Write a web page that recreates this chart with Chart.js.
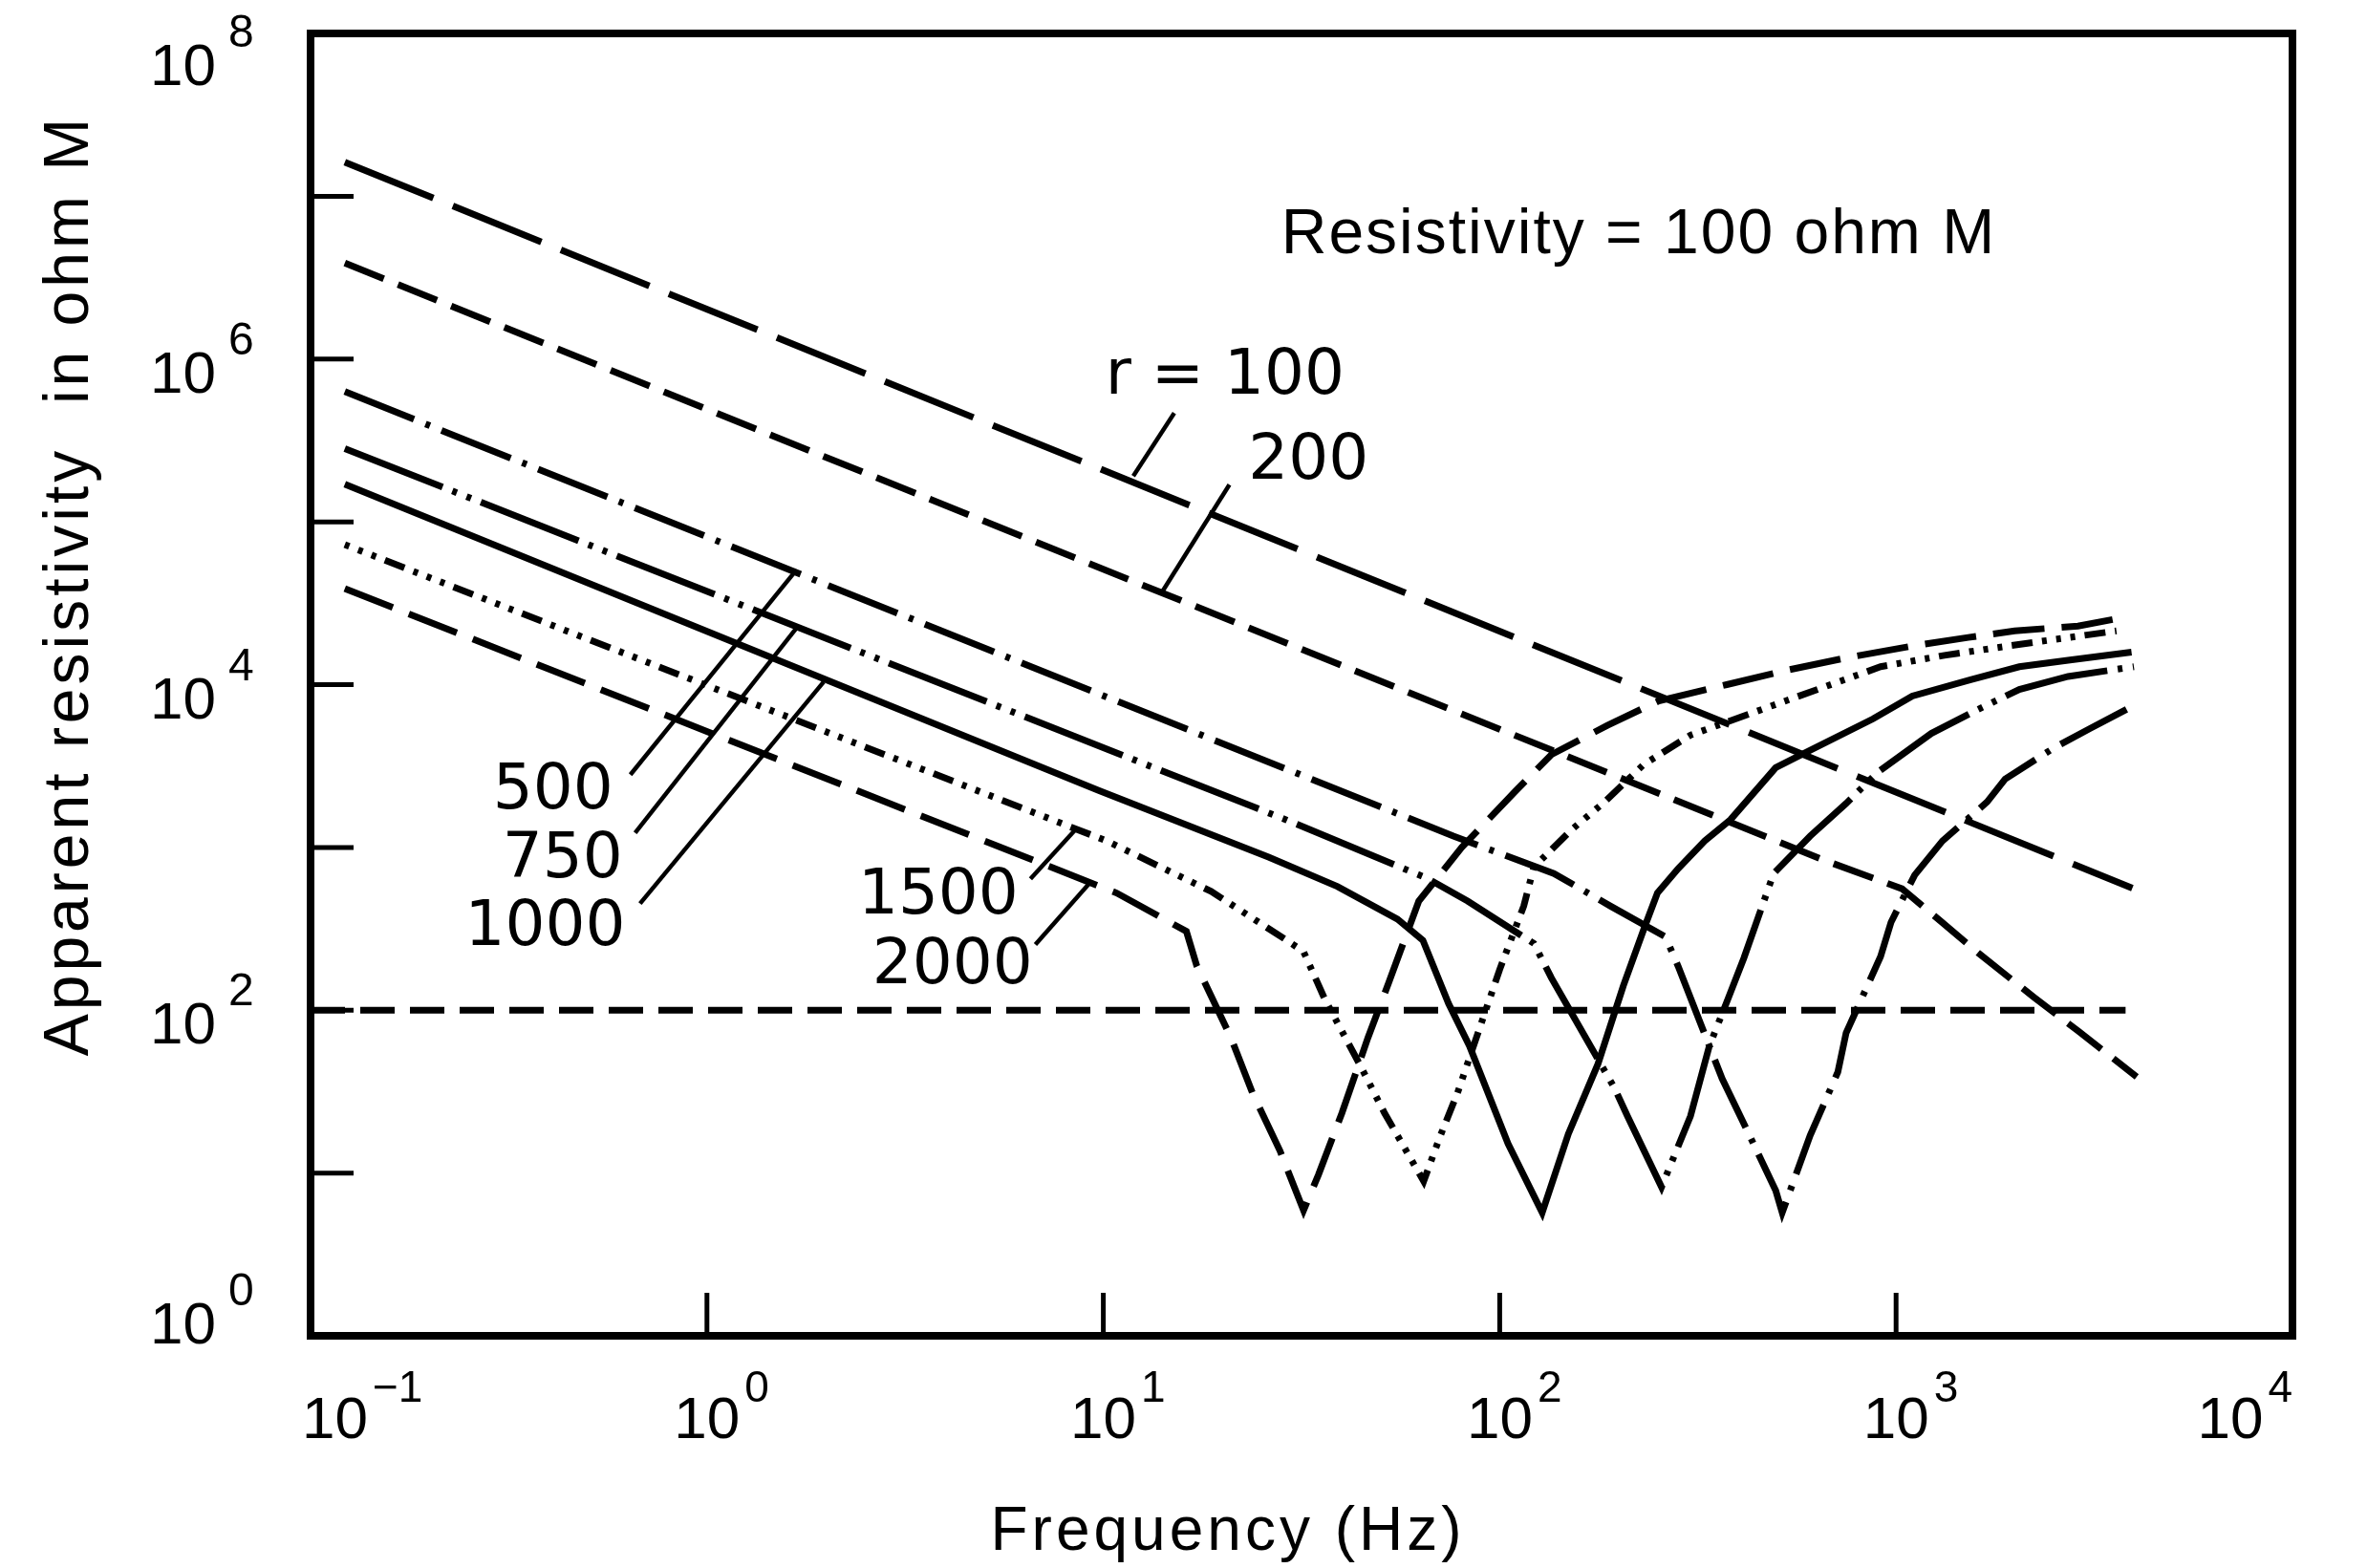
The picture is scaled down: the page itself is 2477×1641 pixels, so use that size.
<!DOCTYPE html>
<html lang="en">
<head>
  <meta charset="UTF-8">
  <title>Apparent resistivity vs frequency</title>
  <script src="https://cdn.jsdelivr.net/npm/chart.js"></script>
  <style>
    html, body { margin: 0; padding: 0; background: #fff; }
    canvas { display: block; }
  </style>
</head>
<body>
<canvas id="rhoChart" width="2477" height="1641"></canvas>
<script>
  // frequency (Hz) / apparent resistivity (ohm m) along each curve, r = spacing
  const freq100 = [0.122, 3945];
  const rho100 = [1.62e7, 562];

  const freq200 = [0.122, 661, 1035, 1291, 1614, 2228, 2891, 4046];
  const rho200 = [3.89e6, 832, 557, 355, 224, 120, 74, 39];

  const freq500 = [0.122, 76.4, 137, 190, 262, 282, 364, 425, 497, 516, 607, 713, 748, 914, 971, 1114, 1309, 1698, 1884, 2495, 3083, 4036];
  const rho500 = [6.31e5, 1175, 692, 437, 282, 186, 38, 17.4, 7.8, 5.71, 17.0, 41.7, 72.4, 214, 347, 676, 1096, 1905, 2630, 4074, 5370, 7586];

  const freq750 = [0.122, 28.9, 65.6, 83.0, 122, 135, 195, 210, 256, 303, 338, 378, 413, 491, 607, 748, 897, 1227, 1585, 2046, 2716, 3981];
  const rho750 = [2.82e5, 1479, 646, 468, 257, 158, 33.1, 22.4, 8.2, 22.4, 60.3, 120, 209, 692, 1175, 1862, 2884, 5012, 6918, 9333, 11220, 12882];

  const freq1000 = [0.122, 9.73, 26.2, 39.0, 55.2, 64.0, 74.3, 83.9, 105, 128, 149, 177, 205, 232, 250, 282, 329, 382, 497, 556, 875, 1099, 1542, 2046, 2716, 3926];
  const rho1000 = [1.70e5, 2240, 870, 575, 363, 269, 110, 60.3, 15.1, 5.71, 17.4, 46.8, 141, 324, 525, 741, 1096, 1479, 3090, 3548, 6166, 8511, 10715, 12882, 14125, 15849];

  const freq1500 = [0.122, 10.2, 18.7, 29.0, 32.0, 36.2, 44.5, 51.2, 64.3, 70.6, 78.2, 100, 115, 122, 152, 184, 231, 303, 914, 1324, 2228, 3597];
  const rho1500 = [72444, 1096, 537, 269, 229, 117, 45.7, 23.4, 8.9, 16.6, 30.9, 178, 437, 759, 1288, 1905, 3236, 4898, 12882, 15136, 18197, 21380];

  const freq2000 = [0.122, 10.8, 16.2, 17.2, 21.0, 23.8, 27.9, 32.0, 34.9, 40.0, 46.5, 52.5, 62.5, 80.2, 110, 135, 187, 252, 374, 533, 769, 1114, 1521, 1991, 2877, 3707];
  const rho2000 = [38905, 525, 305, 188, 67.6, 30.9, 13.7, 5.89, 9.77, 23.4, 67.6, 148, 468, 1000, 2239, 3715, 5623, 7943, 10000, 12303, 14791, 17378, 19498, 21380, 22909, 25704];

  // half-space resistivity
  const freqHalf = [0.1, 3793];
  const rhoHalf = [100, 100];

  // curve labels (right edge / baseline) and their leader lines
  const labelText = ['r = 100', '200', '500', '750', '1000', '1500', '2000'];
  const labelFreq = [40.6, 46.7, 0.580, 0.613, 0.623, 6.11, 6.64];
  const labelRho = [6.10e5, 1.84e5, 1742, 660, 253, 395, 146];
  const leaderFreq = [[15.1, 11.9], [20.8, 13.96], [0.641, 1.684], [0.659, 1.70], [0.678, 1.97], [6.55, 8.57], [6.74, 9.31]];
  const leaderRho = [[4.66e5, 1.91e5], [1.69e5, 3.60e4], [2798, 5.09e4], [1228, 2.30e4], [452, 1.04e4], [642, 1313], [253, 617]];

  const noteText = 'Resistivity = 100 ohm M';
  const noteFreq = 28.1;
  const noteRho = 4.44e6;

  const xTickExp = [-1, 0, 1, 2, 3, 4];
  const yTickExp = [0, 2, 4, 6, 8];

  const toPts = (f, r) => f.map((v, i) => ({ x: v, y: r[i] }));
  const curve = (f, r, dash) => ({
    data: toPts(f, r),
    showLine: true,
    borderColor: '#000',
    borderWidth: 7,
    borderDash: dash,
    borderCapStyle: 'butt',
    pointRadius: 0,
    tension: 0
  });

  const datasets = [
    curve(freq100, rho100, [100, 22]),
    curve(freq200, rho200, [44, 16]),
    curve(freq500, rho500, [78, 13, 5, 13]),
    curve(freq750, rho750, [110, 11, 5, 11, 5, 11]),
    curve(freq1000, rho1000, []),
    curve(freq1500, rho1500, [5, 10, 5, 10, 5, 10, 22, 10]),
    curve(freq2000, rho2000, [54, 18]),
    curve(freqHalf, rhoHalf, [36, 16])
  ];

  // frame, inward ticks, power-of-ten labels, titles and curve labels
  const decorations = {
    id: 'decorations',
    afterDraw(chart) {
      const { ctx, chartArea: a, scales: { x, y } } = chart;
      ctx.save();
      ctx.strokeStyle = '#000';
      ctx.fillStyle = '#000';
      ctx.setLineDash([]);

      // leader lines
      ctx.lineWidth = 4.5;
      leaderFreq.forEach((lf, i) => {
        ctx.beginPath();
        ctx.moveTo(x.getPixelForValue(lf[0]), y.getPixelForValue(leaderRho[i][0]));
        ctx.lineTo(x.getPixelForValue(lf[1]), y.getPixelForValue(leaderRho[i][1]));
        ctx.stroke();
      });

      // curve labels
      ctx.font = '66px "DejaVu Sans"';
      ctx.textAlign = 'right';
      ctx.textBaseline = 'alphabetic';
      labelText.forEach((t, i) => {
        ctx.fillText(t, x.getPixelForValue(labelFreq[i]), y.getPixelForValue(labelRho[i]));
      });

      ctx.font = '66px "Liberation Sans"';
      ctx.letterSpacing = '2px';
      ctx.textAlign = 'left';
      ctx.fillText(noteText, x.getPixelForValue(noteFreq), y.getPixelForValue(noteRho));
      ctx.letterSpacing = '0px';

      // frame
      ctx.lineWidth = 8;
      ctx.strokeRect(a.left, a.top, a.right - a.left, a.bottom - a.top);

      // inward ticks
      ctx.lineWidth = 5;
      for (let e = 1; e <= 7; e++) {
        const py = y.getPixelForValue(10 ** e);
        ctx.beginPath();
        ctx.moveTo(a.left, py);
        ctx.lineTo(a.left + 45, py);
        ctx.stroke();
      }
      for (let e = 0; e <= 3; e++) {
        const px = x.getPixelForValue(10 ** e);
        ctx.beginPath();
        ctx.moveTo(px, a.bottom);
        ctx.lineTo(px, a.bottom - 45);
        ctx.stroke();
      }

      // x tick labels
      xTickExp.forEach((e, i) => {
        const px = x.getPixelForValue(10 ** e);
        const exp = e < 0 ? '\u2212' + (-e) : String(e);
        ctx.font = '62px "Liberation Sans"';
        const w10 = ctx.measureText('10').width;
        ctx.font = '46px "Liberation Sans"';
        const wExp = ctx.measureText(exp).width;
        let left = px - w10 / 2;
        if (i === 0) left = px - 9;
        if (i === xTickExp.length - 1) left = px - w10 - 5 - wExp;
        ctx.textAlign = 'left';
        ctx.font = '62px "Liberation Sans"';
        ctx.fillText('10', left, a.bottom + 107);
        ctx.font = '46px "Liberation Sans"';
        ctx.fillText(exp, left + w10 + 5, a.bottom + 69);
      });

      // y tick labels
      yTickExp.forEach(e => {
        const py = y.getPixelForValue(10 ** e);
        const base = py + (e === 0 ? 8 : e === 8 ? 54 : 35);
        ctx.font = '62px "Liberation Sans"';
        ctx.textAlign = 'right';
        ctx.fillText('10', a.left - 99, base);
        ctx.font = '48px "Liberation Sans"';
        ctx.textAlign = 'left';
        ctx.fillText(String(e), a.left - 86, base - 40);
      });

      // axis titles
      ctx.font = '64px "Liberation Sans"';
      ctx.letterSpacing = '4px';
      ctx.textAlign = 'center';
      ctx.fillText('Frequency (Hz)', (a.left + a.right) / 2 - 77, a.bottom + 224);

      ctx.translate(a.left - 233, (a.top + a.bottom) / 2 - 104);
      ctx.rotate(-Math.PI / 2);
      ctx.font = '66px "Liberation Sans"';
      ctx.fillText('Apparent resistivity  in ohm M', 0, 0);
      ctx.letterSpacing = '0px';
      ctx.restore();
    }
  };

  new Chart(document.getElementById('rhoChart').getContext('2d'), {
    type: 'scatter',
    data: { datasets },
    options: {
      responsive: false,
      animation: false,
      layout: { padding: { left: 325, right: 78, top: 35, bottom: 243 } },
      plugins: { legend: { display: false }, tooltip: { enabled: false } },
      scales: {
        x: {
          type: 'logarithmic', min: 0.1, max: 10000,
          ticks: { display: false },
          grid: { display: false },
          border: { display: false },
          afterFit: s => { s.height = 0; }
        },
        y: {
          type: 'logarithmic', min: 1, max: 1e8,
          ticks: { display: false },
          grid: { display: false },
          border: { display: false },
          afterFit: s => { s.width = 0; }
        }
      }
    },
    plugins: [decorations]
  });
</script>
</body>
</html>
